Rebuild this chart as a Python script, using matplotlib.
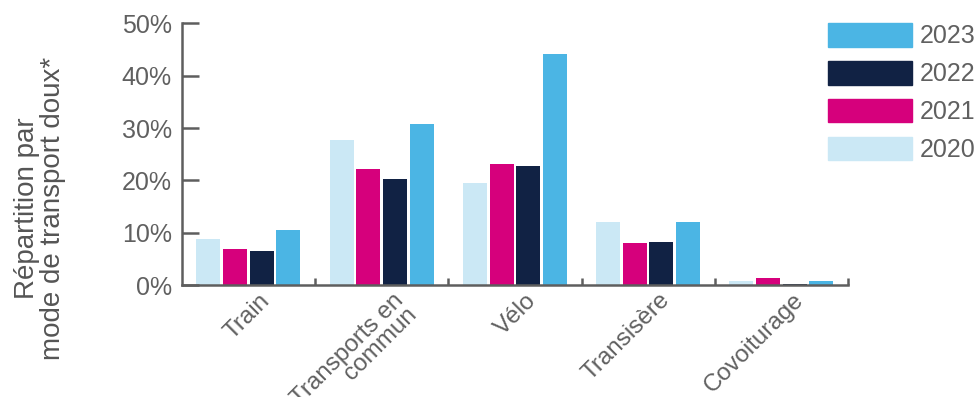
import matplotlib
matplotlib.use("Agg")
import matplotlib.pyplot as plt
from matplotlib.patches import Patch
import numpy as np

categories = ["Train", "Transports en\ncommun", "Vélo", "Transisère", "Covoiturage"]
years = ["2020", "2021", "2022", "2023"]
v2020 = [8.8, 27.7, 19.5, 12.0, 0.8]
v2021 = [6.9, 22.2, 23.1, 8.0, 1.3]
v2022 = [6.5, 20.3, 22.7, 8.2, 0.2]
v2023 = [10.5, 30.8, 44.1, 12.0, 0.8]
colors = ["#cbe8f5", "#d6007c", "#112244", "#4bb5e4"]

plt.rcParams['font.family'] = ['Liberation Sans', 'DejaVu Sans']
grey = "#5e5e5e"
txt = "#606060"

fig = plt.figure(figsize=(9.77, 3.97), dpi=100)
ax = fig.add_axes([0.186, 0.282, 0.682, 0.659])

x = np.arange(len(categories))
series = [v2020, v2021, v2022, v2023]
offsets = [-0.3, -0.1, 0.1, 0.3]
for vals, off, c, yr in zip(series, offsets, colors, years):
    ax.bar(x + off, vals, width=0.18, color=c, label=yr, zorder=1)

ax.set_xlim(-0.5, 4.5)
ax.set_ylim(0, 50)
ax.set_yticks([0, 10, 20, 30, 40, 50])
ax.set_yticklabels([f"{v}%" for v in [0, 10, 20, 30, 40, 50]])

# category labels, slanted
ax.set_xticks(x + 0.08)
ax.set_xticklabels(categories, rotation=45, ha='right', va='top',
                   rotation_mode='anchor', linespacing=0.85)
ax.tick_params(axis='x', length=0, pad=3, labelsize=17.5, labelcolor=txt)
ax.set_xticks(np.arange(0.5, 5, 1), minor=True)
ax.tick_params(axis='x', which='minor', direction='in', length=5, width=1.8, color=grey)
ax.tick_params(axis='y', direction='in', length=12, width=1.8, color=grey,
               labelsize=18, labelcolor=txt, pad=7)

for s in ['top', 'right']:
    ax.spines[s].set_visible(False)
for s in ['left', 'bottom']:
    ax.spines[s].set_color(grey)
    ax.spines[s].set_linewidth(1.8)
    ax.spines[s].set_zorder(3)

ax.set_ylabel("Répartition par\nmode de transport doux*", fontsize=20,
              color="#555555", linespacing=1.0)
ax.yaxis.set_label_coords(-0.174, 0.294)

handles = [Patch(color=c) for c in colors[::-1]]
fig.legend(handles, years[::-1], loc='upper left', bbox_to_anchor=(0.8475, 0.942),
           frameon=False, fontsize=18, handlelength=3.36, handleheight=1.08,
           labelspacing=0.5, handletextpad=0.32, borderpad=0, borderaxespad=0,
           labelcolor=txt)

fig.savefig("out.png", dpi=100)
